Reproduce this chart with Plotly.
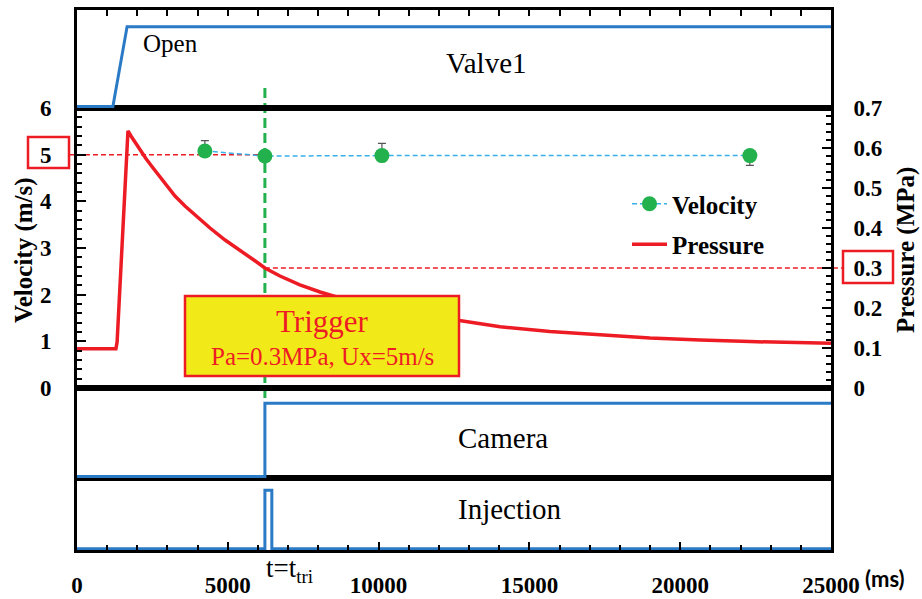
import plotly.graph_objects as go

# ---------------- data ----------------
time_ticks = [0, 5000, 10000, 15000, 20000, 25000]
vel_ticks = [0, 1, 2, 3, 4, 5, 6]
pres_ticks = [0, 0.1, 0.2, 0.3, 0.4, 0.5, 0.6, 0.7]
pres_tick_text = ["0", "0.1", "0.2", "0.3", "0.4", "0.5", "0.6", "0.7"]

t_trigger = 6230
v_trigger = 5
p_trigger = 0.3

valve_t = [0, 1190, 1660, 25000]
valve_s = [0, 0, 1, 1]
camera_t = [0, 6230, 6230, 25000]
camera_s = [0, 0, 1, 1]
inj_t = [0, 6230, 6230, 6460, 6460, 25000]
inj_s = [0, 0, 1, 1, 0, 0]

vel_t = [4240, 6230, 10110, 22310]
vel_v = [5.08, 4.97, 4.98, 4.98]
vel_err_up = [0.22, 0, 0.26, 0]
vel_err_down = [0, 0, 0, 0.21]

pres_t = [0, 1290, 1330, 1360, 1430, 1490, 1560, 1590, 1630, 1660, 1690,
          1790, 1920, 2090, 2290, 2490, 2720, 2950, 3250, 3580, 3980, 4410,
          4910, 5400, 5900, 6230, 6730, 7390, 8060, 8720, 9720, 10710, 11700,
          12670, 14030, 15680, 17340, 19000, 20660, 22310, 25000]
pres_p = [0.098, 0.098, 0.115, 0.16, 0.26, 0.345, 0.42, 0.47, 0.54, 0.61, 0.643,
          0.63, 0.615, 0.595, 0.573, 0.553, 0.53, 0.508, 0.48, 0.455, 0.428, 0.40,
          0.37, 0.343, 0.318, 0.300, 0.28, 0.258, 0.24, 0.225, 0.208, 0.193, 0.18,
          0.168, 0.153, 0.141, 0.133, 0.125, 0.120, 0.116, 0.112]

# ---------------- layout helpers ----------------
FW, FH = 922, 599
L, R, T, B = 77, 831, 10, 550
PW, PH = R - L, B - T


def px(x):
    return (x - L) / PW


def py(y):
    return (B - y) / PH


dom_inj = [0, py(478)]
dom_cam = [py(478), py(388)]
dom_mid = [py(388), py(108)]
dom_valve = [py(108), 1]
sig_range = [-0.02, 1.21]
vel_range = [0, 6]
pres_range = [0, 0.7]
t_range = [0, 25000]


def yv(v):
    return dom_mid[0] + (v - vel_range[0]) / (vel_range[1] - vel_range[0]) * (dom_mid[1] - dom_mid[0])


def yp(p):
    return dom_mid[0] + (p - pres_range[0]) / (pres_range[1] - pres_range[0]) * (dom_mid[1] - dom_mid[0])


def xt(t):
    return (t - t_range[0]) / (t_range[1] - t_range[0])


SERIF = "Liberation Serif"
BLUE = "#2A7AC6"
RED = "#ED1C24"
GREEN = "#22B14C"

fig = go.Figure()

fig.add_trace(go.Scatter(x=valve_t, y=valve_s, xaxis="x4", yaxis="y4", mode="lines",
                         line=dict(color=BLUE, width=3), showlegend=False, hoverinfo="skip"))
fig.add_trace(go.Scatter(x=camera_t, y=camera_s, xaxis="x2", yaxis="y2", mode="lines",
                         line=dict(color=BLUE, width=3), showlegend=False, hoverinfo="skip"))
fig.add_trace(go.Scatter(x=inj_t, y=inj_s, xaxis="x", yaxis="y", mode="lines",
                         line=dict(color=BLUE, width=3), showlegend=False, hoverinfo="skip"))
fig.add_trace(go.Scatter(x=vel_t, y=vel_v, xaxis="x3", yaxis="y3", mode="lines+markers",
                         name="Velocity", legendgroup="v",
                         line=dict(color="#3AB0E8", width=1.5, dash="5px,3px"),
                         marker=dict(color=GREEN, size=15),
                         error_y=dict(type="data", symmetric=False, array=vel_err_up,
                                      arrayminus=vel_err_down, color="#555555",
                                      thickness=1.2, width=4)))
fig.add_trace(go.Scatter(x=pres_t, y=pres_p, xaxis="x3", yaxis="y5", mode="lines",
                         name="Pressure", legendgroup="p",
                         line=dict(color=RED, width=3.5)))

border = dict(showline=True, linecolor="black", linewidth=3, mirror=True,
              showgrid=False, zeroline=False)
tickfont = dict(family=SERIF, size=23, color="black", weight="bold")

fig.update_layout(
    width=FW, height=FH, autosize=False,
    margin=dict(l=L, r=FW - R, t=T, b=FH - B, pad=0, autoexpand=False),
    paper_bgcolor="white", plot_bgcolor="rgba(0,0,0,0)",
    xaxis=dict(**border, range=t_range, anchor="y", domain=[0, 1],
               ticks="inside", tickmode="array", tickvals=time_ticks,
               ticktext=[str(v) for v in time_ticks], ticklen=8, tickwidth=2,
               tickcolor="black", tickfont=tickfont, ticklabelstandoff=12,
               minor=dict(tickmode="linear", tick0=0, dtick=1000, ticks="inside",
                          ticklen=5, tickwidth=2, tickcolor="black")),
    yaxis=dict(**border, range=sig_range, domain=dom_inj, anchor="x",
               showticklabels=False, ticks=""),
    xaxis2=dict(**border, range=t_range, anchor="y2", domain=[0, 1],
                showticklabels=False, ticks=""),
    yaxis2=dict(**border, range=sig_range, domain=dom_cam, anchor="x2",
                showticklabels=False, ticks=""),
    xaxis3=dict(**border, range=t_range, anchor="y3", domain=[0, 1],
                showticklabels=False, ticks=""),
    yaxis3=dict(**border, range=vel_range, domain=dom_mid, anchor="x3",
                ticks="inside", tickmode="array", tickvals=vel_ticks,
                ticktext=[str(v) for v in vel_ticks], ticklen=9, tickwidth=2,
                tickcolor="black", tickfont=tickfont, ticklabelstandoff=18,
                minor=dict(tickmode="linear", tick0=0, dtick=0.2, ticks="inside",
                           ticklen=5, tickwidth=2, tickcolor="black")),
    yaxis5=dict(showline=True, linecolor="black", linewidth=3, showgrid=False,
                zeroline=False, range=pres_range, overlaying="y3", side="right",
                anchor="x3", ticks="inside", tickmode="array", tickvals=pres_ticks,
                ticktext=pres_tick_text, ticklen=9, tickwidth=2, tickcolor="black",
                tickfont=tickfont, ticklabelstandoff=15,
                minor=dict(tickmode="linear", tick0=0, dtick=0.02, ticks="inside",
                           ticklen=5, tickwidth=2, tickcolor="black")),
    xaxis4=dict(**border, range=t_range, anchor="y4", domain=[0, 1], side="top",
                showticklabels=False, ticks="inside", tickmode="linear", tick0=0,
                dtick=1000, ticklen=6, tickwidth=2, tickcolor="black"),
    yaxis4=dict(**border, range=sig_range, domain=dom_valve, anchor="x4",
                showticklabels=False, ticks=""),
    legend=dict(x=px(627), y=py(181), xanchor="left", yanchor="top",
                bgcolor="rgba(0,0,0,0)", traceorder="grouped", tracegroupgap=5,
                font=dict(family=SERIF, size=25, color="black", weight="bold"),
                itemwidth=35),
    showlegend=True,
)

shapes = [
    dict(type="line", xref="paper", yref="paper", x0=px(69), x1=xt(t_trigger),
         y0=yv(v_trigger), y1=yv(v_trigger), line=dict(color=RED, width=1.5, dash="5px,3px"),
         layer="below"),
    dict(type="line", xref="paper", yref="paper", x0=xt(t_trigger), x1=px(843),
         y0=yp(p_trigger), y1=yp(p_trigger), line=dict(color=RED, width=1.5, dash="5px,3px"),
         layer="below"),
    dict(type="line", xref="paper", yref="paper", x0=xt(t_trigger), x1=xt(t_trigger),
         y0=py(88), y1=py(398), line=dict(color=GREEN, width=3, dash="10px,5px"),
         layer="below"),
    dict(type="rect", xref="paper", yref="paper", x0=px(28), x1=px(69), y0=py(168),
         y1=py(137), line=dict(color=RED, width=2.5)),
    dict(type="rect", xref="paper", yref="paper", x0=px(843), x1=px(893), y0=py(283),
         y1=py(251), line=dict(color=RED, width=2.5)),
    dict(type="rect", xref="paper", yref="paper", x0=px(185), x1=px(459), y0=py(376),
         y1=py(296), line=dict(color=RED, width=2.5), fillcolor="#F2EA18", layer="above"),
]
fig.update_layout(shapes=shapes)


def ann(text, x, y, size, color="black", bold=False, family=SERIF, angle=0):
    return dict(text=text, xref="paper", yref="paper", x=px(x), y=py(y),
                xanchor="center", yanchor="middle", showarrow=False, textangle=angle,
                font=dict(family=family, size=size, color=color,
                          weight="bold" if bold else "normal"))


annotations = [
    ann("Open", 170, 43, 25),
    ann("Valve1", 486, 63, 29),
    ann("Camera", 503, 438, 29),
    ann("Injection", 510, 509, 29),
    ann("Trigger", 322, 322, 31, color=RED),
    ann("Pa=0.3MPa, Ux=5m/s", 322, 356, 25, color=RED),
    ann("t=t<sub>tri</sub>", 289, 570, 27),
    ann("(ms)", 885, 578, 22, family="Lato", bold=True),
    ann("Velocity (m/s)", 24, 250, 25, bold=True, angle=-90),
    ann("Pressure (MPa)", 906, 250, 25, bold=True, angle=-90),
]
fig.update_layout(annotations=annotations)

fig.write_html("out.html", config={"displayModeBar": False},
               post_script="document.body.style.margin='0';")
